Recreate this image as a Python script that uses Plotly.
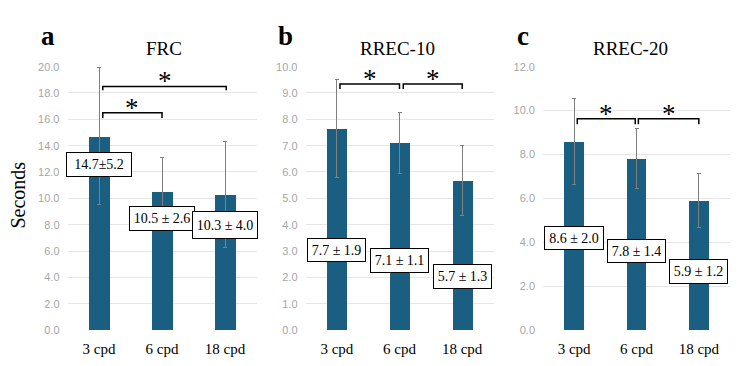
import plotly.graph_objects as go

W, H = 750, 366

categories = ["3 cpd", "6 cpd", "18 cpd"]

frc_mean = [14.7, 10.5, 10.3]
frc_sd = [5.2, 2.6, 4.0]
frc_labels = ["14.7±5.2", "10.5 ± 2.6", "10.3 ± 4.0"]

rrec10_mean = [7.66, 7.1, 5.67]
rrec10_sd = [1.87, 1.15, 1.33]
rrec10_labels = ["7.7 ± 1.9", "7.1 ± 1.1", "5.7 ± 1.3"]

rrec20_mean = [8.6, 7.8, 5.9]
rrec20_sd = [1.97, 1.37, 1.22]
rrec20_labels = ["8.6 ± 2.0", "7.8 ± 1.4", "5.9 ± 1.2"]

titles = ["FRC", "RREC-10", "RREC-20"]
letters = ["a", "b", "c"]

BAR = "#1a5e81"
ERR = "#808080"
SERIF = "Liberation Serif, Times New Roman, serif"
SANS = "Liberation Sans, Arial, sans-serif"

# layout (pixels)
panels = [
    dict(x0=67.5, x1=256.5, ymax=20, dtick=2, label_y=[12.6, 8.5, 8.0], label_h=[19, 19, 22], label_w=[60, 60, 60],
         brackets=[(0.06, 1.0, 16.1, 16.5), (0.06, 2.02, 18.2, 18.5)], letter_x=48, title_x=164),
    dict(x0=305.5, x1=493.5, ymax=10, dtick=1, label_y=[3.05, 2.65, 2.02], label_h=[18, 19, 19], label_w=[53, 53, 53],
         brackets=[(0.05, 1.0, 9.15, 9.34), (1.06, 2.0, 9.15, 9.34)], letter_x=285, title_x=397),
    dict(x0=543, x1=730, ymax=12, dtick=2, label_y=[4.21, 3.62, 2.65], label_h=[18, 18, 19], label_w=[54, 53, 53],
         brackets=[(0.05, 0.98, 9.38, 9.63), (1.03, 2.0, 9.38, 9.63)], letter_x=523, title_x=630),
]
means = [frc_mean, rrec10_mean, rrec20_mean]
sds = [frc_sd, rrec10_sd, rrec20_sd]
labels = [frc_labels, rrec10_labels, rrec20_labels]

Y_TOP, Y_BOT = 62.7, 335.0

fig = go.Figure()
annotations = []
shapes = []
for i, p in enumerate(panels):
    sx = "" if i == 0 else str(i + 1)
    xa, ya = "x" + sx, "y" + sx
    fig.add_trace(go.Bar(
        x=list(range(len(categories))), y=means[i],
        marker=dict(color=BAR, line=dict(width=0)),
        width=0.32,
        error_y=dict(type="data", array=sds[i], visible=True, color=ERR, thickness=1, width=2),
        xaxis=xa, yaxis=ya, showlegend=False, hoverinfo="skip",
    ))
    fig.update_layout(**{
        "xaxis" + sx: dict(
            domain=[p["x0"] / W, p["x1"] / W], range=[-0.5, 2.5],
            tickvals=list(range(len(categories))), ticktext=categories,
            tickfont=dict(family=SERIF, size=15, color="black"),
            showgrid=False, zeroline=False, showline=False, ticks="", anchor=ya,
            ticklabelstandoff=8,
        ),
        "yaxis" + sx: dict(
            domain=[1 - Y_BOT / H, 1 - Y_TOP / H], range=[0, p["ymax"]],
            dtick=p["dtick"], tickformat=".1f",
            tickfont=dict(family=SANS, size=11, color="#a6a6a6"),
            showgrid=True, gridcolor="#e6e6e6", gridwidth=1,
            zeroline=False, showline=False, ticks="", ticklabelstandoff=7, anchor=xa,
        ),
    })
    # value labels
    for k in range(len(categories)):
        annotations.append(dict(
            x=k, y=p["label_y"][k], xref=xa, yref=ya, text=labels[i][k], showarrow=False,
            font=dict(family=SERIF, size=14, color="black"),
            bgcolor="white", bordercolor="black", borderwidth=1, borderpad=2,
            width=p["label_w"][k], height=p["label_h"][k], xanchor="center", yanchor="middle",
        ))
    # brackets
    for (bx0, bx1, ylo, yhi) in p["brackets"]:
        shapes.append(dict(
            type="path", xref=xa, yref=ya,
            path=f"M {bx0} {ylo} L {bx0} {yhi} L {bx1} {yhi} L {bx1} {ylo}",
            line=dict(color="black", width=1.5),
        ))
        annotations.append(dict(
            x=(bx0 + bx1) / 2, y=yhi, xref=xa, yref=ya, text="*", showarrow=False,
            font=dict(family=SERIF, size=27, color="#000000"),
            xanchor="center", yanchor="bottom", yshift=-12,
        ))
    # title and letter
    annotations.append(dict(
        x=p["title_x"] / W, y=1 - 44 / H, xref="paper", yref="paper", text=titles[i],
        showarrow=False, font=dict(family=SERIF, size=19, color="black"),
        xanchor="center", yanchor="middle",
    ))
    annotations.append(dict(
        x=p["letter_x"] / W, y=1 - 31 / H, xref="paper", yref="paper", text="<b>" + letters[i] + "</b>",
        showarrow=False, font=dict(family=SERIF, size=27, color="black"),
        xanchor="center", yanchor="middle",
    ))

annotations.append(dict(
    x=18 / W, y=1 - 196 / H, xref="paper", yref="paper", text="Seconds", textangle=-90,
    showarrow=False, font=dict(family=SERIF, size=20, color="black"),
    xanchor="center", yanchor="middle",
))

fig.update_layout(
    width=W, height=H, margin=dict(l=0, r=0, t=0, b=0),
    paper_bgcolor="white", plot_bgcolor="white",
    annotations=annotations, shapes=shapes, bargap=0,
)
fig.write_html("out.html")
